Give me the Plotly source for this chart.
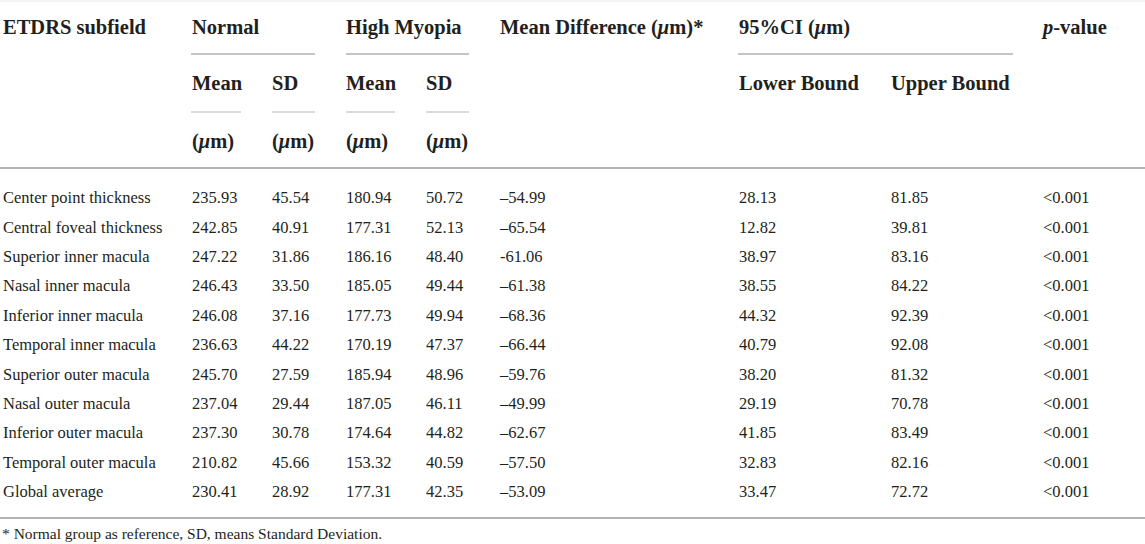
import plotly.graph_objects as go

# table contents
subfields = [
    "Center point thickness", "Central foveal thickness", "Superior inner macula",
    "Nasal inner macula", "Inferior inner macula", "Temporal inner macula",
    "Superior outer macula", "Nasal outer macula", "Inferior outer macula",
    "Temporal outer macula", "Global average",
]
normal_mean = [235.93, 242.85, 247.22, 246.43, 246.08, 236.63, 245.70, 237.04, 237.30, 210.82, 230.41]
normal_sd = [45.54, 40.91, 31.86, 33.50, 37.16, 44.22, 27.59, 29.44, 30.78, 45.66, 28.92]
myopia_mean = [180.94, 177.31, 186.16, 185.05, 177.73, 170.19, 185.94, 187.05, 174.64, 153.32, 177.31]
myopia_sd = [50.72, 52.13, 48.40, 49.44, 49.94, 47.37, 48.96, 46.11, 44.82, 40.59, 42.35]
mean_diff = ["–54.99", "–65.54", "-61.06", "–61.38", "–68.36", "–66.44",
             "–59.76", "–49.99", "–62.67", "–57.50", "–53.09"]
ci_lower = [28.13, 12.82, 38.97, 38.55, 44.32, 40.79, 38.20, 29.19, 41.85, 32.83, 33.47]
ci_upper = [81.85, 39.81, 83.16, 84.22, 92.39, 92.08, 81.32, 70.78, 83.49, 82.16, 72.72]
p_values = ["<0.001"] * len(subfields)

header_top = ["ETDRS subfield", "Normal", "", "High Myopia", "", "Mean Difference (<i>μ</i>m)*",
              "95%CI (<i>μ</i>m)", "", "<i>p</i>-value"]
header_mid = ["", "Mean", "SD", "Mean", "SD", "", "Lower Bound", "Upper Bound", ""]
header_unit = ["", "(<i>μ</i>m)", "(<i>μ</i>m)", "(<i>μ</i>m)", "(<i>μ</i>m)", "", "", "", ""]
footnote = "* Normal group as reference, SD, means Standard Deviation."

# layout in page pixels
W, H = 1145, 544
col_x = [3, 192, 272, 346, 426, 500, 739, 891, 1043]
head_y = [27, 83, 141]
row_y0, row_step = 197, 29.4
DY = 2  # plotly centres text slightly high
FONT = "Liberation Serif"
INK = "#231f20"

columns = [
    subfields,
    [f"{v:.2f}" for v in normal_mean],
    [f"{v:.2f}" for v in normal_sd],
    [f"{v:.2f}" for v in myopia_mean],
    [f"{v:.2f}" for v in myopia_sd],
    mean_diff,
    [f"{v:.2f}" for v in ci_lower],
    [f"{v:.2f}" for v in ci_upper],
    p_values,
]

fig = go.Figure()
row_y = [row_y0 + DY + i * row_step for i in range(len(subfields))]
for x, cells in zip(col_x, columns):
    fig.add_trace(go.Scatter(
        x=[x] * len(cells), y=row_y, text=cells, mode="text",
        textposition="middle right", textfont=dict(family=FONT, size=16.5, color=INK),
        hoverinfo="skip", showlegend=False, cliponaxis=False,
    ))

for y, labels in zip(head_y, [header_top, header_mid, header_unit]):
    xs = [x for x, t in zip(col_x, labels) if t]
    ts = [f"<b>{t}</b>" for t in labels if t]
    fig.add_trace(go.Scatter(
        x=xs, y=[y + DY] * len(ts), text=ts, mode="text", textposition="middle right",
        textfont=dict(family=FONT, size=20.5, color=INK), hoverinfo="skip",
        showlegend=False, cliponaxis=False,
    ))

fig.add_trace(go.Scatter(
    x=[2], y=[533 + DY], text=[footnote], mode="text", textposition="middle right",
    textfont=dict(family=FONT, size=15.5, color=INK), hoverinfo="skip",
    showlegend=False, cliponaxis=False,
))

# rules
def rule(x0, x1, y, color, width):
    fig.add_shape(type="line", xref="x", yref="y", x0=x0, x1=x1, y0=y, y1=y,
                  line=dict(color=color, width=width))

rule(0, W, 1, "#e6e6e6", 1)
rule(0, W, 168, "#9a9a9a", 1.6)
rule(0, W, 518, "#9a9a9a", 1.6)
for x0, x1 in [(191, 315), (346, 469), (738, 1013)]:
    rule(x0, x1, 54, "#b0b0b0", 1.3)
for x0, x1 in [(191, 241), (272, 315), (346, 395), (426, 469)]:
    rule(x0, x1, 112, "#cfcfcf", 1.3)

fig.update_layout(
    width=W, height=H, margin=dict(l=0, r=0, t=0, b=0),
    paper_bgcolor="white", plot_bgcolor="white",
    xaxis=dict(range=[0, W], visible=False, fixedrange=True),
    yaxis=dict(range=[H, 0], visible=False, fixedrange=True),
)
fig.write_html(
    "out.html",
    config={"displayModeBar": False},
    post_script="document.body.style.margin = '0px';",
)
